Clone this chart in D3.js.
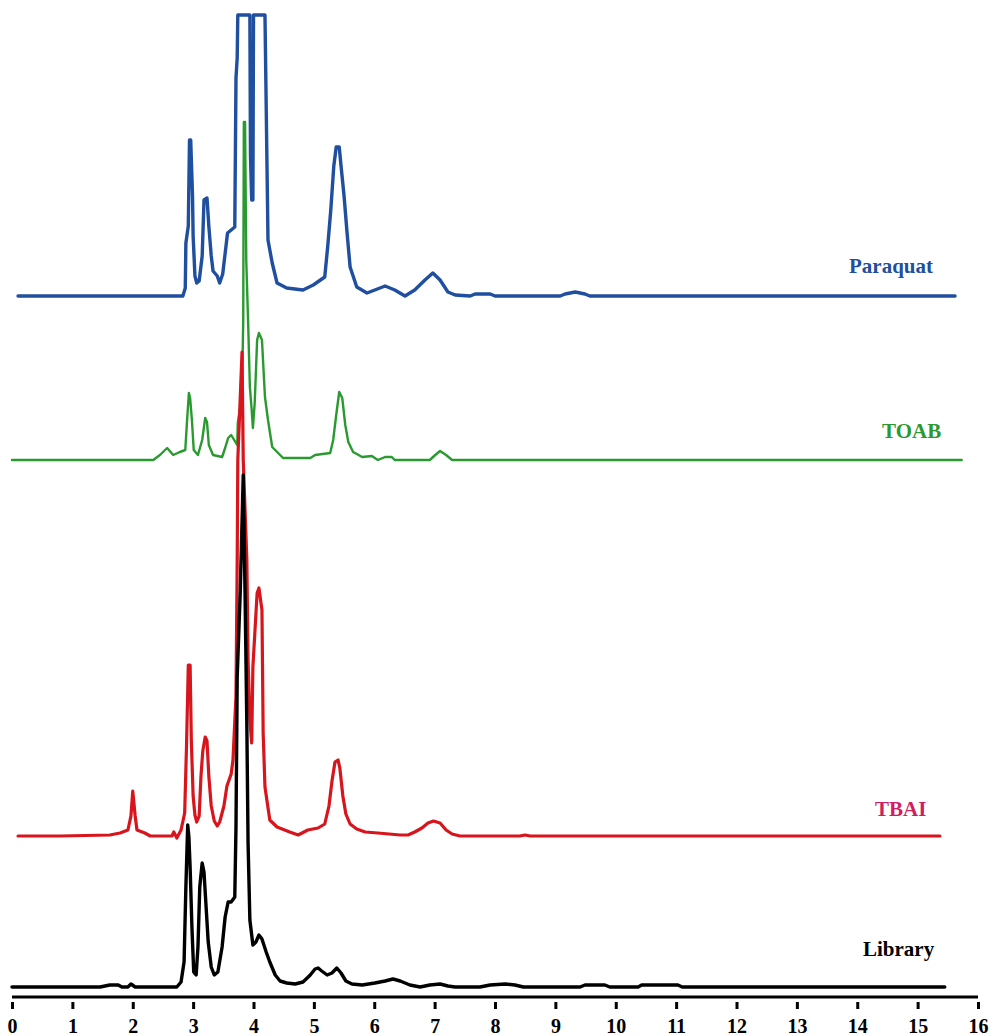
<!DOCTYPE html>
<html>
<head>
<meta charset="utf-8">
<script src="https://cdn.jsdelivr.net/npm/d3@7/dist/d3.min.js"></script>
<style>
  html, body { margin: 0; padding: 0; background: #ffffff; }
  svg { display: block; }
</style>
</head>
<body>
<script>
// ---------- DATA (retention time in min, signal height above each trace's baseline) ----------
const xTicks = [0,1,2,3,4,5,6,7,8,9,10,11,12,13,14,15,16];

const seriesNames = ["Paraquat", "TOAB", "TBAI", "Library"];
const seriesOffsets = [701, 537, 161, 10];

const paraquatTime = [0.10,2.83,2.87,2.88,2.92,2.94,2.96,2.99,3.00,3.03,3.06,3.10,3.15,3.18,3.23,3.26,3.30,3.33,3.40,3.44,3.49,3.57,3.69,3.71,3.73,3.74,3.94,3.95,3.97,3.99,4.00,4.19,4.24,4.31,4.39,4.55,4.82,4.99,5.18,5.23,5.28,5.33,5.37,5.42,5.45,5.50,5.55,5.60,5.71,5.88,6.01,6.18,6.34,6.51,6.67,6.84,6.97,7.09,7.22,7.34,7.59,7.67,7.92,8.00,9.08,9.16,9.33,9.49,9.57,15.62];
const paraquatValue = [0,0,8,53,70,156,156,100,60,20,13,15,40,96,98,70,40,25,20,13,22,63,69,218,238,281,281,140,96,96,281,281,56,33,13,8,6,11,19,50,86,130,149,149,130,100,63,29,9,3,6,10,6,0,6,16,23,16,4,1,0,2,2,0,0,2,4,2,0,0];

const toabTime = [0,2.34,2.45,2.57,2.67,2.78,2.87,2.90,2.93,2.95,2.98,3.01,3.08,3.15,3.20,3.23,3.26,3.33,3.48,3.53,3.58,3.63,3.73,3.74,3.78,3.81,3.83,3.84,3.86,3.88,3.91,3.94,3.97,3.99,4.02,4.06,4.09,4.14,4.19,4.24,4.31,4.49,4.94,5.02,5.27,5.32,5.37,5.42,5.47,5.52,5.57,5.65,5.80,5.96,6.06,6.18,6.29,6.34,6.92,7.01,7.09,7.19,7.29,15.73];
const toabValue = [0,0,5,12,5,8,10,40,67,62,40,10,5,20,42,38,15,5,3,12,22,25,15,37,53,70,140,338,338,200,140,73,50,32,57,120,127,120,63,40,13,2,2,5,7,20,45,68,62,35,18,8,3,4,0,3,3,0,0,5,9,5,0,0];

const tbaiTime = [0.10,0.80,1.62,1.79,1.92,1.97,2.00,2.04,2.07,2.20,2.29,2.65,2.68,2.73,2.80,2.86,2.89,2.92,2.95,2.97,3.00,3.03,3.06,3.10,3.13,3.16,3.20,3.23,3.26,3.30,3.35,3.40,3.44,3.51,3.56,3.63,3.66,3.71,3.73,3.74,3.81,3.83,3.89,3.91,3.94,3.97,3.99,4.06,4.09,4.14,4.16,4.19,4.27,4.39,4.60,4.74,4.90,5.07,5.18,5.25,5.30,5.35,5.40,5.43,5.48,5.53,5.60,5.71,5.85,6.06,6.43,6.56,6.67,6.79,6.89,6.98,7.09,7.19,7.29,7.42,8.41,8.50,8.58,15.37];
const tbaiValue = [0,0,1,3,6,20,45,20,6,3,0,0,4,-2,6,23,89,171,171,96,40,21,14,20,60,85,99,95,60,30,15,10,14,30,50,62,76,140,276,376,484,376,276,176,116,93,169,243,248,226,103,49,16,9,4,1,6,8,12,30,55,74,76,68,40,22,12,7,4,3,1,1,4,8,13,15,13,6,2,0,0,1,0,0];

const libraryTime = [0,1.46,1.62,1.76,1.82,1.92,1.97,2.04,2.73,2.80,2.85,2.88,2.91,2.93,2.95,2.98,3.01,3.05,3.08,3.11,3.15,3.18,3.21,3.25,3.30,3.35,3.41,3.48,3.53,3.58,3.63,3.69,3.71,3.73,3.78,3.83,3.86,3.89,3.91,3.94,3.99,4.04,4.09,4.14,4.21,4.27,4.36,4.44,4.55,4.69,4.82,4.94,5.02,5.07,5.13,5.22,5.30,5.38,5.45,5.53,5.63,5.80,6.01,6.18,6.31,6.43,6.59,6.76,6.92,7.09,7.22,7.34,7.75,7.92,8.17,8.33,8.47,9.41,9.49,9.82,9.90,10.37,10.43,11.03,11.10,15.45];
const libraryValue = [0,0,2,2,0,0,3,0,0,5,25,100,162,150,120,60,15,12,40,100,124,115,85,45,20,12,15,40,70,85,85,90,160,310,394,512,394,260,144,67,42,45,52,48,35,25,12,6,4,3,5,12,18,19,16,12,14,19,14,6,3,2,4,6,8,6,2,0,2,3,1,0,0,2,3,2,0,0,2,2,0,0,2,2,0,0];

const seriesTimes = [paraquatTime, toabTime, tbaiTime, libraryTime];
const seriesValues = [paraquatValue, toabValue, tbaiValue, libraryValue];

// ---------- STYLE ----------
const lineColors = ["#1f4f9e", "#2a9a30", "#d8151c", "#000000"];
const labelColors = ["#1f4f9e", "#2a9a30", "#cf1f60", "#000000"];
const lineWidths = [3.4, 2.4, 3.2, 3.4];
const labelPos = [[849, 273], [882, 438], [875, 816], [863, 956]];

const W = 998, H = 1036;
const svg = d3.select("body").append("svg").attr("width", W).attr("height", H);

const x = d3.scaleLinear().domain([0, 16]).range([12, 978]);
const y = d3.scaleLinear().domain([0, 982]).range([997, 15]);

svg.append("defs").append("clipPath").attr("id", "plotclip")
  .append("rect").attr("x", 0).attr("y", 13).attr("width", W).attr("height", 990);

const g = svg.append("g").attr("clip-path", "url(#plotclip)");

seriesNames.forEach((name, i) => {
  const pts = seriesTimes[i].map((t, k) => [t, seriesValues[i][k] + seriesOffsets[i]]);
  const line = d3.line().x(d => x(d[0])).y(d => y(d[1]));
  g.append("path")
    .datum(pts)
    .attr("d", line)
    .attr("fill", "none")
    .attr("stroke", lineColors[i])
    .attr("stroke-width", lineWidths[i])
    .attr("stroke-linejoin", "round")
    .attr("stroke-linecap", "round");
});

seriesNames.forEach((name, i) => {
  svg.append("text")
    .attr("x", labelPos[i][0])
    .attr("y", labelPos[i][1])
    .attr("fill", labelColors[i])
    .attr("font-family", "'Liberation Serif', 'Times New Roman', serif")
    .attr("font-weight", "bold")
    .attr("font-size", 21)
    .text(name);
});

// axis line
svg.append("line")
  .attr("x1", x(0)).attr("x2", x(16))
  .attr("y1", 997).attr("y2", 997)
  .attr("stroke", "#000").attr("stroke-width", 3);

const axis = d3.axisBottom(x).tickValues(xTicks).tickFormat(d3.format("d")).tickSizeInner(7).tickSizeOuter(0).tickPadding(10);
const ag = svg.append("g").attr("transform", "translate(0,1002)").call(axis);
ag.select(".domain").remove();
ag.selectAll(".tick line").attr("stroke", "#000").attr("stroke-width", 3);
ag.selectAll(".tick text")
  .attr("fill", "#000")
  .attr("font-family", "'Liberation Serif', 'Times New Roman', serif")
  .attr("font-weight", "bold")
  .attr("font-size", 20);
</script>
</body>
</html>
